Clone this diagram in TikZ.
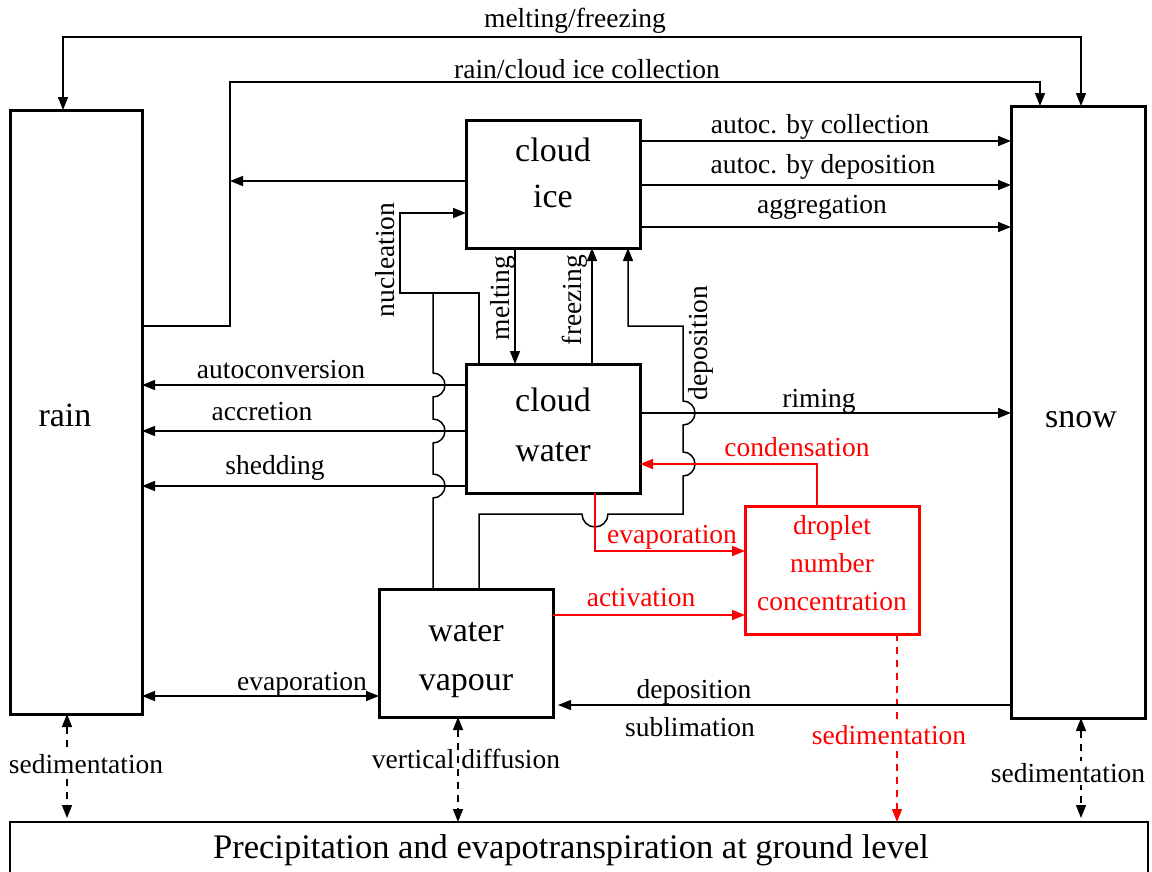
\documentclass[tikz,border=0pt]{standalone}
\usepackage{fontspec}
\setmainfont{Liberation Serif}
\usetikzlibrary{arrows.meta}
\definecolor{pred}{RGB}{255,0,0}
\begin{document}
\begin{tikzpicture}[x=1pt,y=-1pt,
  >={Triangle[length=13pt,width=10pt]},
  box/.style={draw, line width=3pt, inner sep=0pt, outer sep=0pt},
  boxtxt/.style={align=center, font=\fontsize{34}{46}\selectfont, inner sep=0pt},
  lbl/.style={font=\fontsize{27.5}{33}\selectfont, inner sep=0pt},
  conn/.style={line width=1.5pt},
  dsh/.style={line width=1.5pt, dash pattern=on 7pt off 6pt},
  wlbl/.style={lbl, fill=white, inner sep=2pt}
]
\useasboundingbox (0,0) rectangle (1152,871);

% boxes
\node[box, minimum width=132pt, minimum height=604pt,
  label={[boxtxt, xshift=-11pt, yshift=-3pt]center:rain}] (rain) at (76,412) {};
\node[box, minimum width=134pt, minimum height=612pt,
  label={[boxtxt, xshift=3pt, yshift=-8pt]center:snow}] (snow) at (1078,412) {};
\node[box, minimum width=174pt, minimum height=128pt,
  label={[boxtxt, yshift=11pt]center:cloud\\ice}] (ci) at (553,184) {};
\node[box, minimum width=174pt, minimum height=129pt,
  label={[boxtxt, font=\fontsize{34}{50}\selectfont, yshift=4pt]center:cloud\\water}] (cw) at (553,428.5) {};
\node[box, minimum width=174pt, minimum height=128pt,
  label={[boxtxt, font=\fontsize{34}{49}\selectfont, yshift=-7pt]center:water\\vapour}] (wv) at (466,653) {};
\node[box, draw=pred, minimum width=174pt, minimum height=128pt,
  label={[boxtxt, text=pred, font=\fontsize{27.5}{38}\selectfont, yshift=7pt]center:droplet\\number\\concentration}] (dnc) at (832,570) {};
\node[draw, line width=1.5pt, inner sep=0pt, outer sep=0pt, minimum width=1138pt, minimum height=56pt,
  font=\fontsize{34.5}{40}\selectfont, text depth=0pt] (ground) at (579,850)
  {\hspace*{-16pt}\raisebox{7pt}{Precipitation and evapotranspiration at ground level}};

\coordinate (rc) at (230,181);

% top connectors
\draw[conn,<->] (snow.north -| 1081,0) -- (1081,37) -- (63,37) -- (rain.north -| 63,0);
\node[lbl] (lmf) at (575,21) {melting/freezing};
\draw[conn,->] (rain.east |- 0,326) -- (230,326) -- (230,82) -- (1040,82) -- (snow.north -| 1040,0);
\node[lbl] (lrc) at (587,69) {rain/cloud ice collection};
\draw[conn,->] (ci.west |- 0,181) -- (rc);

% cloud ice -> snow
\draw[conn,->] (ci.east |- 0,141) -- (snow.west |- 0,141);
\node[lbl] (lac) at (820,127) {autoc. by collection};
\draw[conn,->] (ci.east |- 0,185) -- (snow.west |- 0,185);
\node[lbl] (lad) at (823,167) {autoc. by deposition};
\draw[conn,->] (ci.east |- 0,227) -- (snow.west |- 0,227);
\node[lbl] (lag) at (822,207) {aggregation};

% nucleation
\draw[conn,->] (cw.north -| 479,0) -- (479,293) -- (400,293) -- (400,213) -- (ci.west |- 0,213);
\draw[conn] (wv.north -| 433,0) -- (433,498) arc[start angle=90,end angle=-90,radius=12]
  -- (433,443) arc[start angle=90,end angle=-90,radius=12]
  -- (433,397) arc[start angle=90,end angle=-90,radius=12]
  -- (433,293);
\node[lbl, rotate=90] (lnu) at (385,260) {nucleation};

% melting / freezing
\draw[conn,->] (ci.south -| 515,0) -- (cw.north -| 515,0);
\node[lbl, rotate=90] (lme) at (503,298) {melting};
\draw[conn,->] (cw.north -| 592,0) -- (ci.south -| 592,0);
\node[lbl, rotate=90] (lfr) at (575,300) {freezing};

% deposition (vapour -> cloud ice)
\draw[conn,->] (wv.north -| 479,0) -- (479,514) -- (582,514) arc[start angle=180,end angle=0,radius=13]
  -- (683,514) -- (683,476) arc[start angle=90,end angle=-90,radius=12]
  -- (683,425) arc[start angle=90,end angle=-90,radius=12]
  -- (683,326) -- (628,326) -- (ci.south -| 628,0);
\node[lbl, rotate=90] (lde) at (701,343) {deposition};

% cloud water -> rain
\draw[conn,->] (cw.west |- 0,385) -- (rain.east |- 0,385);
\node[lbl] (lau) at (281,370) {autoconversion};
\draw[conn,->] (cw.west |- 0,431) -- (rain.east |- 0,431);
\node[lbl] (lacc) at (262,412) {accretion};
\draw[conn,->] (cw.west |- 0,486) -- (rain.east |- 0,486);
\node[lbl] (lsh) at (275,468) {shedding};

% riming
\draw[conn,->] (cw.east |- 0,413) -- (snow.west |- 0,413);
\node[lbl] (lri) at (819,401) {riming};

% red connectors
\draw[conn,pred,->] (dnc.north -| 817,0) -- (817,464) -- (cw.east |- 0,464);
\node[lbl, text=pred] (lco) at (797,447) {condensation};
\draw[conn,pred,->] (cw.south -| 595,0) -- (595,551) -- (dnc.west |- 0,551);
\node[lbl, text=pred] (lev) at (672,537) {evaporation};
\draw[conn,pred,->] (wv.east |- 0,615) -- (dnc.west |- 0,615);
\node[lbl, text=pred] (lact) at (641,598) {activation};
\draw[dsh,pred,->] (dnc.south -| 897,0) -- (ground.north -| 897,0);
\node[wlbl, text=pred] (lsr) at (889,735) {sedimentation};

% deposition / sublimation
\draw[conn,->, shorten >=5pt] (snow.west |- 0,705) -- (wv.east |- 0,705);
\node[lbl] (ldp) at (694,692) {deposition};
\node[lbl] (lsu) at (690,727) {sublimation};

% evaporation rain <-> vapour
\draw[conn,<->] (rain.east |- 0,696) -- (wv.west |- 0,696);
\node[lbl] (levb) at (302,684) {evaporation};

% vertical exchanges with ground
\draw[dsh,<->, shorten >=4pt] (rain.south -| 67,0) -- (ground.north -| 67,0);
\node[wlbl] (lsl) at (86,764) {sedimentation};
\draw[dsh,<->] (wv.south -| 458,0) -- (ground.north -| 458,0);
\node[lbl] (lvd) at (466,759) {vertical diffusion};
\draw[dsh,<->, shorten >=4pt] (snow.south -| 1081,0) -- (ground.north -| 1081,0);
\node[wlbl] (lss) at (1068,773) {sedimentation};
\end{tikzpicture}
\end{document}
